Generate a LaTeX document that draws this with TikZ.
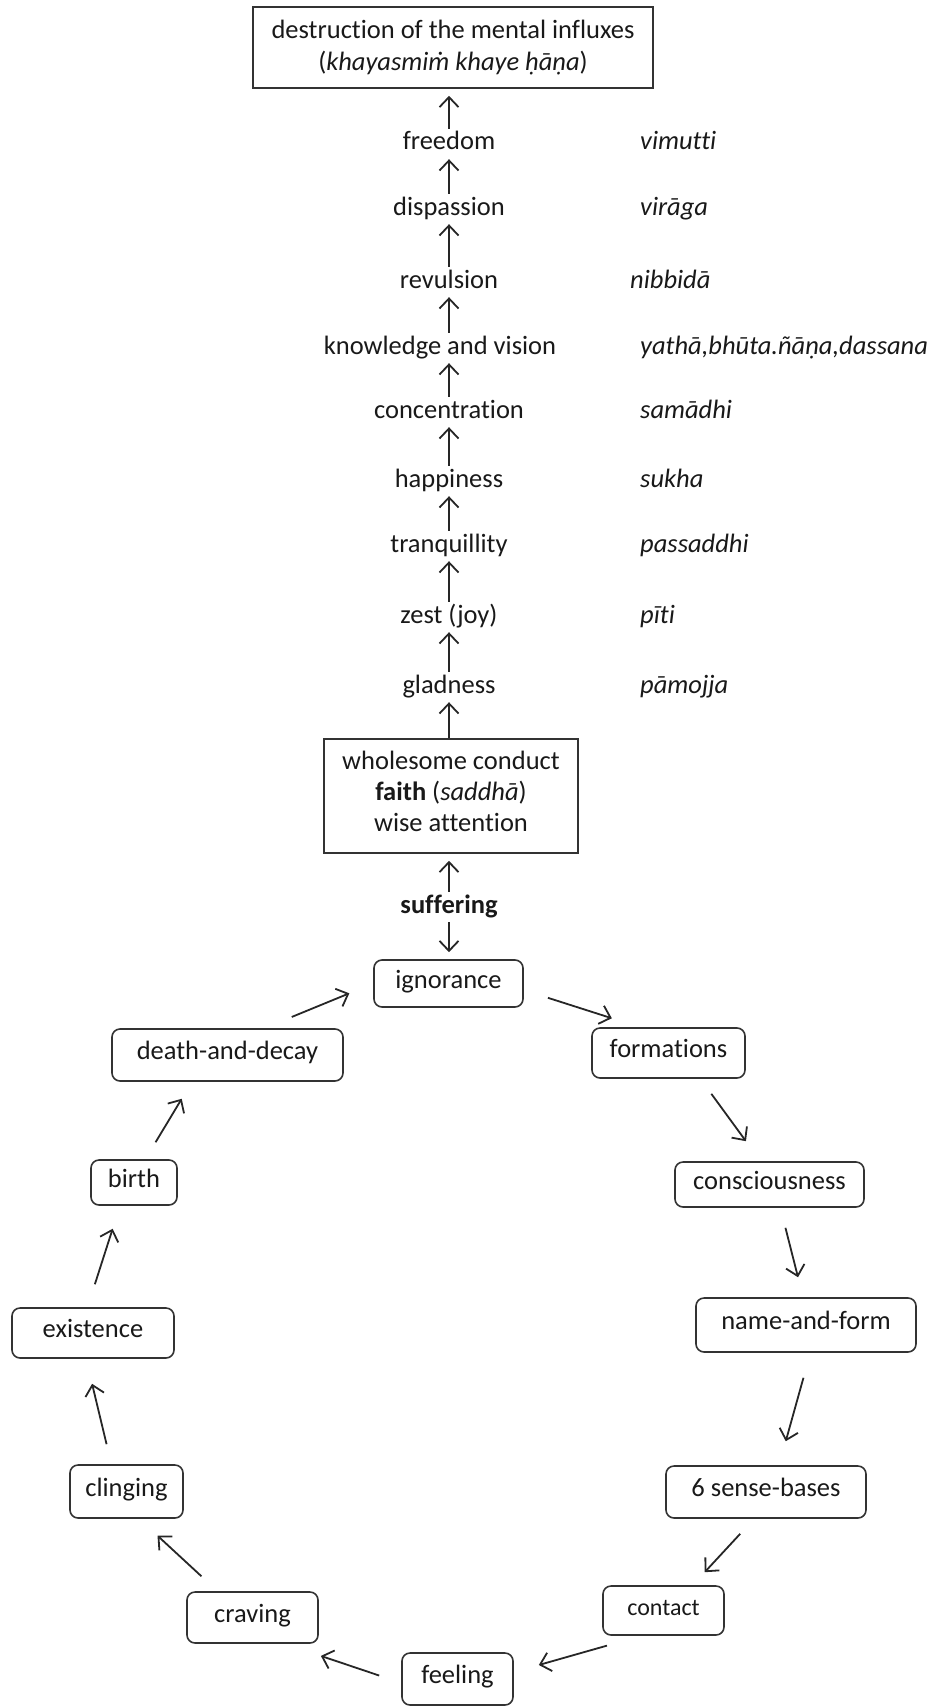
\documentclass[tikz,border=0pt]{standalone}
\usepackage{fontspec}
\setmainfont{Carlito}[Ligatures=NoCommon]
\usetikzlibrary{arrows.meta,calc}
\begin{document}
\begin{tikzpicture}[x=1pt,y=-1pt,
  every node/.style={font=\fontsize{26.5}{32}\selectfont, text=black!90},
  col/.style={anchor=base, text height=19pt, text depth=7pt, inner ysep=2pt, inner xsep=0pt},
  pali/.style={anchor=base west, inner sep=0pt, font=\fontsize{26.5}{32}\selectfont\itshape},
  bigbox/.style={draw=black!80, line width=1.6pt, align=center, inner sep=0pt},
  cyc/.style={draw=black!80, line width=1.6pt, rounded corners=8pt, inner sep=0pt, text height=17pt, text depth=8pt},
  arr/.style={draw=black!85, line width=1.8pt, -{Straight Barb[length=10pt,width=19pt]}}
]
\useasboundingbox (0,0) rectangle (933,1707);

% top box
\node[bigbox, minimum width=400pt, minimum height=81pt] (top) at (453,47.5)
  {destruction of the mental influxes\\(\textit{khayasmiṁ khaye ḥāṇa})};

% ascending column
\node[col] (free) at (449,150) {freedom};
\node[col] (disp) at (449,215) {dispassion};
\node[col] (revul) at (449,288) {revulsion};
\node[col] (know) at (440,354) {knowledge and vision};
\node[col] (conc) at (449,418) {concentration};
\node[col] (happy) at (449,487) {happiness};
\node[col] (tranq) at (449,552) {tranquillity};
\node[col] (zest) at (449,623) {zest (joy)};
\node[col] (glad) at (449,693) {gladness};

% Pali column
\node[pali] (vim) at (640,150) {vimutti};
\node[pali] (vir) at (640,215) {virāga};
\node[pali] (nib) at (630,288) {nibbidā};
\node[pali] (yat) at (640,354) {yathā,bhūta.ñāṇa,dassana};
\node[pali] (sam) at (640,418) {samādhi};
\node[pali] (suk) at (640,487) {sukha};
\node[pali] (pas) at (640,552) {passaddhi};
\node[pali] (pit) at (640,623) {pīti};
\node[pali] (pam) at (640,693) {pāmojja};

% middle box
\node[bigbox, minimum width=254pt, minimum height=114pt, font=\fontsize{26.5}{31}\selectfont] (mid) at (451,796)
  {wholesome conduct\\\textbf{faith} (\textit{saddhā})\\wise attention\strut};
\node[col] (suff) at (449,913) {\textbf{suffering}};

% column arrows
\draw[arr, shorten >=7pt] (free.north) -- (top.south -| free.north);
\draw[arr] (disp.north) -- (free.south);
\draw[arr] (revul.north) -- (disp.south);
\draw[arr] (revul.south |- know.north) -- (revul.south);
\draw[arr] (conc.north) -- (conc.north |- know.south);
\draw[arr] (happy.north) -- (conc.south);
\draw[arr] (tranq.north) -- (happy.south);
\draw[arr] (zest.north) -- (tranq.south);
\draw[arr] (glad.north) -- (zest.south);
\draw[arr] (mid.north -| glad.south) -- (glad.south);
\draw[arr, shorten >=7pt] (suff.north) -- (mid.south -| suff.north);

% cycle
\node[cyc, minimum width=149pt, minimum height=47pt] (ign) at (448.5,983.5) {ignorance};
\node[cyc, minimum width=153pt, minimum height=50pt] (form) at (668.5,1053) {formations};
\node[cyc, minimum width=189pt, minimum height=45pt] (cons) at (769.5,1184.5) {consciousness};
\node[cyc, minimum width=220pt, minimum height=54pt] (name) at (806,1325) {name-and-form};
\node[cyc, minimum width=200pt, minimum height=52pt] (sense) at (766,1492) {6 sense-bases};
\node[cyc, minimum width=121pt, minimum height=49pt, font=\fontsize{24}{28}\selectfont] (cont) at (663.5,1610.5) {contact};
\node[cyc, minimum width=111pt, minimum height=52pt] (feel) at (457.5,1679) {feeling};
\node[cyc, minimum width=131pt, minimum height=51pt] (crav) at (252.5,1617.5) {craving};
\node[cyc, minimum width=113pt, minimum height=53pt] (cling) at (126.5,1491.5) {clinging};
\node[cyc, minimum width=162pt, minimum height=50pt] (exist) at (93,1333) {existence};
\node[cyc, minimum width=86pt, minimum height=45pt] (birth) at (134,1182.5) {birth};
\node[cyc, minimum width=231pt, minimum height=52pt] (death) at (227.5,1055) {death-and-decay};

\draw[arr, shorten >=7pt] (suff.south) -- (ign.north -| suff.south);

\draw[arr, shorten <=25.3pt, shorten >=29.4pt] (ign.-5) -- (form.138.7);
\draw[arr, shorten <=18.6pt, shorten >=24.8pt] (form.-39.3) -- (cons.111.4);
\draw[arr, shorten <=20.6pt, shorten >=20.6pt] (cons.-65.2) -- (name.96.1);
\draw[arr, shorten <=25.9pt, shorten >=24.9pt] (name.-81.8) -- (sense.64.5);
\draw[arr, shorten <=20.4pt, shorten >=17.7pt] (sense.-114.9) -- (cont.41.7);
\draw[arr, shorten <=35.9pt, shorten >=26pt] (cont.-131.9) -- (feel.7);
\draw[arr, shorten <=23.2pt, shorten >=37.9pt] (feel.-176.6) -- (crav.-39);
\draw[arr, shorten <=22pt, shorten >=24.9pt] (crav.143.5) -- (cling.-65.1);
\draw[arr, shorten <=20.6pt, shorten >=25.7pt] (cling.119) -- (exist.-105.6);
\draw[arr, shorten <=24.1pt, shorten >=24.1pt] (exist.102) -- (birth.-121.3);
\draw[arr, shorten <=19.8pt, shorten >=19.8pt] (birth.64.4) -- (death.-143.6);
\draw[arr, shorten <=29.6pt, shorten >=25.8pt] (death.36.6) -- (ign.180.7);
\end{tikzpicture}
\end{document}
